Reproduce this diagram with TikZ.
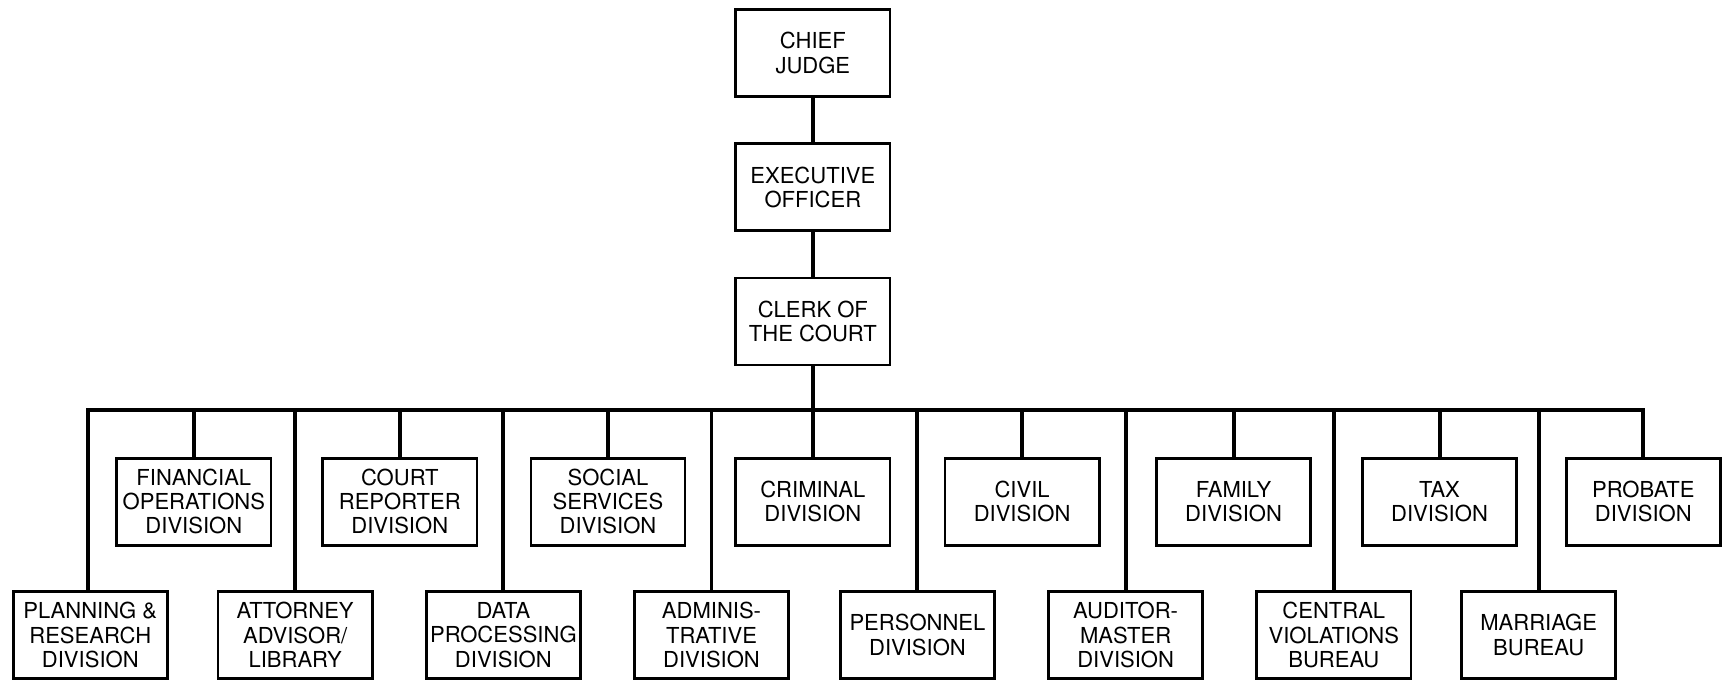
\documentclass[tikz,border=0pt]{standalone}
\usepackage{fontspec}
\setmainfont{TeX Gyre Heros}
\begin{document}
\begin{tikzpicture}[x=0.5pt,y=-0.5pt,
  box/.style={draw, line width=1.2pt, minimum width=70pt, minimum height=39.5pt,
    inner sep=0pt, align=center, font=\fontsize{10}{11}\selectfont},
  conn/.style={line width=1.8pt, line join=miter}]
\useasboundingbox (0,0) rectangle (1568,617);
% top chain
\node[box] (chief) at (738,48) {CHIEF\\JUDGE};
\node[box] (exec) at (738,170) {EXECUTIVE\\OFFICER};
\node[box] (clerk) at (738,292) {CLERK OF\\THE COURT};
\coordinate (bus) at (738,372);
% upper row
\node[box] (fin) at (176,455.5) {FINANCIAL\\OPERATIONS\\DIVISION};
\node[box] (crep) at (363,455.5) {COURT\\REPORTER\\DIVISION};
\node[box] (soc) at (552,455.5) {SOCIAL\\SERVICES\\DIVISION};
\node[box] (crim) at (738,455.5) {CRIMINAL\\DIVISION};
\node[box] (civ) at (928,455.5) {CIVIL\\DIVISION};
\node[box] (fam) at (1120,455.5) {FAMILY\\DIVISION};
\node[box] (tax) at (1307,455.5) {TAX\\DIVISION};
\node[box] (prob) at (1492,455.5) {PROBATE\\DIVISION};
% lower row
\node[box] (plan) at (82,576.5) {PLANNING \&\\RESEARCH\\DIVISION};
\node[box] (atty) at (268,576.5) {ATTORNEY\\ADVISOR/\\LIBRARY};
\node[box] (data) at (457,576.5) {DATA\\PROCESSING\\DIVISION};
\node[box] (adm) at (646,576.5) {ADMINIS-\\TRATIVE\\DIVISION};
\node[box] (pers) at (833,576.5) {PERSONNEL\\DIVISION};
\node[box] (aud) at (1022,576.5) {AUDITOR-\\MASTER\\DIVISION};
\node[box] (cvb) at (1211,576.5) {CENTRAL\\VIOLATIONS\\BUREAU};
\node[box] (mar) at (1397,576.5) {MARRIAGE\\BUREAU};
% connectors
\draw[conn] (chief) -- (exec);
\draw[conn] (exec) -- (clerk);
\draw[conn] (clerk) -- (bus);
\draw[conn] ([xshift=-1pt]plan.north) -- ([xshift=-1pt]plan.north |- bus) -- (prob.north |- bus) -- (prob.north);
\foreach \n in {fin,crep,soc,crim,civ,fam,tax,atty,data,adm,pers,aud,cvb,mar}
  \draw[conn] (\n.north) -- (\n.north |- bus);
\end{tikzpicture}
\end{document}
